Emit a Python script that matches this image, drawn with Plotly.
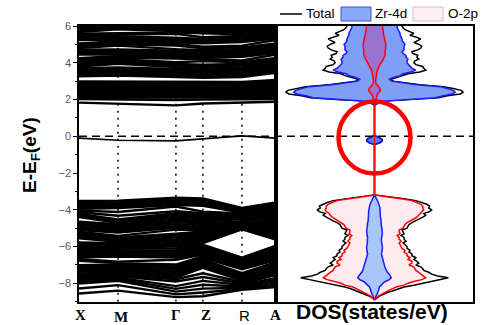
import plotly.graph_objects as go

W, H = 489, 325

# ---- band structure ---------------------------------------------------------
K_LABELS = ["X", "M", "Γ", "Z", "R", "A"]
K_POS = [0.0, 0.198, 0.492, 0.629, 0.827, 1.0]

# valence bands: energies (eV) at X, M, Γ, Z, R, A (band i = i-th entry of every list)
vb_X = [-3.52, -3.60, -3.68, -3.77, -3.86, -3.95, -4.04, -4.13, -4.22, -4.31, -4.40,
        -4.65, -4.74, -4.83, -4.92, -5.01, -5.10, -5.19, -5.28, -5.37, -5.46, -5.55,
        -5.78, -5.87, -5.96, -6.05, -6.14, -6.23, -6.32, -6.41, -6.50, -6.59, -6.68, -6.77,
        -7.02, -7.11, -7.20, -7.29, -7.38, -7.47, -7.56, -7.65, -7.74, -7.83, -7.92, -8.01,
        -8.28, -8.55]
vb_M = [-3.50, -3.58, -3.66, -3.74, -3.82, -3.90,
        -4.12, -4.32,
        -4.52, -4.61, -4.70, -4.79, -4.88, -4.97, -5.06, -5.15, -5.24,
        -5.42, -5.50, -5.58, -5.66, -5.74, -5.82, -5.90, -5.98, -6.06, -6.14, -6.22, -6.30,
        -6.38, -6.46, -6.54,
        -6.82, -6.90, -6.98, -7.06, -7.14, -7.22, -7.30, -7.38, -7.46, -7.54, -7.62, -7.70,
        -7.78, -7.86,
        -8.10, -8.40]
vb_G = [-3.34, -3.42, -3.50, -3.58, -3.66, -3.74, -3.82,
        -4.08, -4.18, -4.28, -4.38, -4.48, -4.58, -4.68, -4.78, -4.88, -4.98, -5.08,
        -5.30, -5.40, -5.50, -5.60, -5.70, -5.80, -5.90, -6.00, -6.10, -6.20, -6.30, -6.40,
        -6.50, -6.60, -6.72,
        -6.98, -7.08, -7.18, -7.28, -7.38, -7.48, -7.58, -7.68, -7.78, -7.90,
        -8.15, -8.30, -8.45, -8.60, -8.75]
vb_Z = [-3.38, -3.46, -3.54, -3.62, -3.70, -3.78,
        -4.10, -4.19, -4.28, -4.37, -4.46, -4.55, -4.64, -4.73, -4.82, -4.91, -5.00, -5.09,
        -5.18, -5.27, -5.36, -5.45, -5.54, -5.63, -5.72, -5.81,
        -5.90, -5.99, -6.08, -6.17, -6.26, -6.35, -6.44, -6.53, -6.62, -6.71, -6.80, -6.89,
        -6.98, -7.07, -7.16,
        -7.45, -7.66, -7.87, -8.08, -8.29, -8.50, -8.70]
vb_R = [-3.90, -3.95, -4.00, -4.05, -4.10, -4.15, -4.20, -4.25, -4.30, -4.35, -4.40,
        -4.45, -4.50,
        -4.62, -4.66, -4.70, -4.74, -4.78, -4.82, -4.86, -4.90, -4.94, -4.98,
        -5.01, -5.04, -5.07,
        -6.60, -6.68, -6.76, -6.84, -6.92, -7.00, -7.08, -7.16, -7.24,
        -7.45, -7.53, -7.61, -7.69, -7.77, -7.85, -7.93, -8.01, -8.09, -8.17,
        -8.24, -8.30, -8.35]
vb_A = [-3.60, -3.68, -3.76, -3.84, -3.92, -4.00, -4.08, -4.16, -4.24, -4.32, -4.40,
        -4.48, -4.56, -4.64, -4.72, -4.80, -4.88, -4.96, -5.04, -5.12, -5.20, -5.28,
        -5.36, -5.44, -5.52, -5.62,
        -5.95, -6.05, -6.15, -6.25, -6.35, -6.45, -6.55, -6.65, -6.75, -6.85, -6.95,
        -7.05, -7.15, -7.25, -7.35, -7.45, -7.55, -7.70, -7.82, -7.95, -8.08, -8.20]

# conduction bands: energies (eV) at X, M, Γ, Z, R, A
cb_X = [1.83, 2.02, 2.10, 2.18, 2.26, 2.34, 2.42, 2.50, 2.58, 2.66, 2.74, 2.82, 2.90, 2.98,
        3.26, 3.35, 3.44, 3.53, 3.62, 3.71, 3.80, 3.89, 3.98, 4.07, 4.16, 4.25,
        4.44, 4.53, 4.62, 4.71, 4.80, 4.88, 4.96, 5.05,
        5.24, 5.32, 5.40, 5.49, 5.58, 5.67, 5.76, 5.85, 5.94, 6.03, 6.12]
cb_M = [1.78, 2.00, 2.10, 2.18, 2.26, 2.34, 2.42, 2.50, 2.58, 2.66, 2.74, 2.82, 2.90, 2.97,
        3.30, 3.39, 3.48, 3.57, 3.66, 3.75,
        3.95, 4.03, 4.11, 4.19, 4.28, 4.37, 4.46, 4.55, 4.64, 4.73,
        4.93, 5.01, 5.09, 5.17, 5.26, 5.35, 5.44, 5.53, 5.62,
        5.82, 5.90, 5.98, 6.07, 6.16, 6.25]
cb_G = [1.68, 1.97, 2.08, 2.16, 2.24, 2.32, 2.40, 2.48, 2.56, 2.64, 2.72, 2.80, 2.88, 2.95,
        3.22, 3.31, 3.40, 3.49, 3.58, 3.67, 3.76, 3.85, 3.94, 4.03,
        4.23, 4.31, 4.39, 4.47, 4.56, 4.65, 4.74,
        4.94, 5.02, 5.10, 5.19, 5.28, 5.37,
        5.57, 5.65, 5.73, 5.82, 5.91, 6.00, 6.09, 6.18]
cb_Z = [1.78, 2.00, 2.10, 2.18, 2.26, 2.34, 2.42, 2.50, 2.58, 2.66, 2.74, 2.82, 2.88, 2.93,
        3.18, 3.27, 3.36, 3.45, 3.54, 3.63, 3.72, 3.81, 3.90,
        4.09, 4.17, 4.25, 4.33, 4.42, 4.51, 4.60, 4.69, 4.78, 4.87,
        5.06, 5.14, 5.22, 5.30, 5.39,
        5.60, 5.69, 5.78, 5.87, 5.96, 6.05, 6.14]
cb_R = [1.83, 2.03, 2.12, 2.20, 2.28, 2.36, 2.44, 2.52, 2.60, 2.68, 2.76, 2.84, 2.90, 2.96,
        3.22, 3.31, 3.40, 3.49, 3.58, 3.67, 3.76, 3.85, 3.94, 4.03, 4.12,
        4.32, 4.40, 4.48, 4.57, 4.66, 4.75, 4.84, 4.93,
        5.12, 5.20, 5.28, 5.37, 5.46, 5.55, 5.64, 5.73, 5.82, 5.91, 6.00, 6.09]
cb_A = [1.88, 2.03, 2.12, 2.20, 2.28, 2.36, 2.44, 2.52, 2.60, 2.68, 2.76, 2.86, 2.96, 3.06,
        3.45, 3.54, 3.63, 3.72, 3.81, 3.90, 3.99, 4.08, 4.17, 4.26,
        4.45, 4.53, 4.61, 4.69, 4.78, 4.87, 4.96, 5.05,
        5.24, 5.32, 5.40, 5.49, 5.58, 5.67, 5.76, 5.85, 5.94, 6.03, 6.12, 6.21, 6.30]

# in-gap defect band at X, M, Γ, Z, R, A
gap_band = [-0.10, -0.22, -0.25, -0.14, 0.02, -0.10]

# ---- density of states (states/eV) -----------------------------------------
E_vb = [-8.9, -8.8, -8.7, -8.6, -8.5, -8.4, -8.3, -8.2, -8.1, -8.0,
        -7.9, -7.8, -7.7, -7.6, -7.5, -7.4, -7.3, -7.2, -7.1, -7.0,
        -6.9, -6.8, -6.7, -6.6, -6.5, -6.4, -6.3, -6.2, -6.1, -6.0,
        -5.9, -5.8, -5.7, -5.6, -5.5, -5.4, -5.3, -5.2, -5.1, -5.0,
        -4.9, -4.8, -4.7, -4.6, -4.5, -4.4, -4.3, -4.2, -4.1, -4.0,
        -3.9, -3.8, -3.7, -3.6, -3.5, -3.4, -3.3, -3.2]
tot_vb = [0.0, 0.2, 0.5, 0.9, 1.3, 1.9, 2.4, 3.0, 4.0, 4.8,
          5.6, 6.6, 7.5, 6.4, 5.8, 5.5, 5.0, 4.9, 4.7, 4.2,
          4.5, 4.3, 4.0, 4.2, 3.8, 3.8, 3.5, 3.6, 3.3, 3.3,
          3.1, 2.9, 3.2, 3.0, 3.0, 2.7, 3.0, 2.9, 2.8, 3.3,
          3.4, 3.5, 3.8, 4.2, 4.6, 4.9, 5.2, 5.0, 5.6, 5.8,
          5.5, 5.6, 5.3, 4.8, 4.2, 3.0, 1.5, 0.0]
zr_vb = [0.0, 0.05, 0.15, 0.25, 0.35, 0.4, 0.45, 0.5, 0.7, 0.85,
         1.1, 1.5, 1.7, 1.6, 1.5, 1.3, 1.2, 1.1, 1.05, 1.0,
         0.95, 0.9, 0.85, 0.8, 0.75, 0.7, 0.75, 0.8, 0.8, 0.8,
         0.75, 0.7, 0.7, 0.7, 0.7, 0.75, 0.8, 0.8, 0.8, 0.75,
         0.7, 0.7, 0.7, 0.65, 0.65, 0.6, 0.6, 0.6, 0.6, 0.6,
         0.55, 0.5, 0.45, 0.4, 0.3, 0.2, 0.1, 0.0]
o_vb = [0.0, 0.15, 0.4, 0.7, 1.0, 1.4, 1.8, 2.2, 3.0, 3.4,
        4.0, 4.8, 5.2, 5.0, 4.7, 4.5, 4.2, 4.1, 4.0, 3.5,
        3.8, 3.8, 3.4, 3.6, 3.3, 3.3, 3.0, 3.1, 2.8, 2.7,
        2.6, 2.5, 2.7, 2.5, 2.5, 2.3, 2.6, 2.5, 2.5, 2.9,
        3.0, 3.1, 3.3, 3.7, 4.0, 4.3, 4.5, 4.6, 4.9, 5.0,
        4.9, 4.9, 4.7, 4.3, 3.8, 2.7, 1.3, 0.0]

E_def = [-0.45, -0.35, -0.25, -0.15, -0.05, 0.05]
tot_def = [0.0, 0.55, 0.8, 0.75, 0.4, 0.0]
zr_def = [0.0, 0.5, 0.75, 0.7, 0.35, 0.0]

E_cb = [1.7, 1.8, 1.9, 2.0, 2.1, 2.2, 2.3, 2.4, 2.5, 2.6,
        2.7, 2.8, 2.9, 3.0, 3.1, 3.2, 3.3, 3.4, 3.5, 3.6,
        3.7, 3.8, 3.9, 4.0, 4.1, 4.2, 4.3, 4.4, 4.5, 4.6,
        4.7, 4.8, 4.9, 5.0, 5.1, 5.2, 5.3, 5.4, 5.5, 5.6,
        5.7, 5.8, 5.9, 6.0, 6.1]
tot_cb = [0.0, 0.4, 0.6, 3.8, 6.5, 7.4, 8.7, 9.0, 8.8, 8.0,
          7.0, 4.6, 3.1, 1.9, 1.7, 2.3, 3.0, 3.4, 4.6, 5.2,
          5.0, 4.9, 4.2, 4.0, 4.1, 4.5, 4.3, 4.4, 3.9, 3.8,
          4.4, 4.7, 4.8, 4.5, 4.0, 4.4, 4.7, 4.2, 3.6, 4.0,
          3.5, 3.1, 2.9, 2.8, 2.8]
zr_cb = [0.0, 0.35, 0.5, 3.6, 6.2, 7.0, 7.9, 8.2, 8.0, 7.4,
         6.7, 4.3, 2.8, 1.7, 1.5, 1.9, 2.6, 2.9, 3.7, 4.2,
         3.8, 3.6, 3.4, 3.3, 3.3, 3.4, 3.2, 3.2, 2.9, 2.8,
         3.0, 3.0, 3.0, 3.1, 2.9, 2.8, 2.8, 2.7, 2.6, 2.6,
         2.5, 2.4, 2.3, 2.3, 2.3]
o_cb = [0.0, 0.05, 0.08, 0.1, 0.15, 0.2, 0.3, 0.45, 0.6, 0.55,
        0.4, 0.2, 0.12, 0.1, 0.12, 0.15, 0.15, 0.2, 0.25, 0.3,
        0.35, 0.45, 0.55, 0.7, 0.8, 0.9, 1.0, 1.05, 1.1, 1.05,
        1.1, 1.15, 1.15, 1.15, 1.1, 1.1, 1.05, 1.0, 0.95, 0.9,
        0.9, 0.85, 0.8, 0.8, 0.8]

DOS_MAX = 10.0
Y_RANGE = [-9, 6]


def band_lines(columns):
    xs, ys = [], []
    for band in zip(*columns):
        xs += K_POS + [None]
        ys += list(band) + [None]
    return xs, ys


def mirrored(energies, values):
    """Closed outline of a DOS curve drawn symmetrically about zero."""
    xs = list(values) + [-v for v in values[::-1]]
    ys = list(energies) + list(energies[::-1])
    return xs, ys


fig = go.Figure()

band_style = dict(mode="lines", line=dict(color="black", width=2.4),
                  hoverinfo="skip", showlegend=False, xaxis="x", yaxis="y")
for cols in ([vb_X, vb_M, vb_G, vb_Z, vb_R, vb_A], [cb_X, cb_M, cb_G, cb_Z, cb_R, cb_A]):
    bx, by = band_lines(cols)
    fig.add_trace(go.Scatter(x=bx, y=by, **band_style))
fig.add_trace(go.Scatter(x=K_POS, y=gap_band, mode="lines", line=dict(color="black", width=1.6),
                         hoverinfo="skip", showlegend=False, xaxis="x", yaxis="y"))

# DOS panel
dos = dict(xaxis="x2", yaxis="y2", hoverinfo="skip", showlegend=False)

tx, ty = mirrored(E_vb + E_def + E_cb, tot_vb + tot_def + tot_cb)
fig.add_trace(go.Scatter(x=tx, y=ty, mode="lines", line=dict(color="black", width=1.5), **dos))

zx, zy = mirrored(E_cb, zr_cb)
fig.add_trace(go.Scatter(x=zx, y=zy, fill="toself", fillcolor="#7f9ef6",
                         mode="none", **dos))
ox, oy = mirrored(E_cb, o_cb)
fig.add_trace(go.Scatter(x=ox, y=oy, fill="toself", fillcolor="#9a72d2",
                         mode="none", **dos))
ox, oy = mirrored(E_vb, o_vb)
fig.add_trace(go.Scatter(x=ox, y=oy, fill="toself", fillcolor="#fdebef",
                         mode="none", **dos))
zx, zy = mirrored(E_vb, zr_vb)
fig.add_trace(go.Scatter(x=zx, y=zy, fill="toself", fillcolor="#a9c6f8",
                         mode="none", **dos))
zx, zy = mirrored(E_def, zr_def)
fig.add_trace(go.Scatter(x=zx, y=zy, fill="toself", fillcolor="#5a7cf2",
                         mode="none", **dos))

zx, zy = mirrored(E_vb + E_def + E_cb, zr_vb + zr_def + zr_cb)
fig.add_trace(go.Scatter(x=zx, y=zy, mode="lines", line=dict(color="#1a1aff", width=1.5), **dos))
ox, oy = mirrored(E_vb + E_cb, o_vb + o_cb)
fig.add_trace(go.Scatter(x=ox, y=oy, mode="lines", line=dict(color="#ff0000", width=1.5), **dos))

# ---- layout -----------------------------------------------------------------
x0, xm, x1 = 79 / W, 276 / W, 473 / W
ybot, ytop = 1 - 301.7 / H, 1 - 26 / H

shapes = []
for k in K_POS[1:5]:
    shapes.append(dict(type="line", xref="x", yref="y", x0=k, x1=k, y0=Y_RANGE[0], y1=Y_RANGE[1],
                       line=dict(color="black", width=1.5, dash="2px,5px"), layer="below"))
shapes.append(dict(type="line", xref="paper", yref="y", x0=x0, x1=x1, y0=0, y1=0,
                   line=dict(color="black", width=1.5, dash="8px,5px")))
shapes.append(dict(type="circle", xref="x2", yref="y2", xsizemode="pixel", ysizemode="pixel",
                   xanchor=0, yanchor=-0.07, x0=-36, x1=36, y0=-36, y1=36,
                   line=dict(color="#ff0000", width=4.5)))

# legend
shapes.append(dict(type="line", xref="paper", yref="paper", x0=280 / W, x1=302 / W,
                   y0=1 - 14 / H, y1=1 - 14 / H, line=dict(color="black", width=1.5)))
shapes.append(dict(type="rect", xref="paper", yref="paper", x0=341 / W, x1=371 / W,
                   y0=1 - 21 / H, y1=1 - 7 / H, fillcolor="#8aaaf8",
                   line=dict(color="#3a55c8", width=1)))
shapes.append(dict(type="rect", xref="paper", yref="paper", x0=413 / W, x1=443 / W,
                   y0=1 - 21 / H, y1=1 - 7 / H, fillcolor="#fdeef0",
                   line=dict(color="#e9b8be", width=1)))

annotations = []
for txt, px in (("Total", 304), ("Zr-4d", 373), ("O-2p", 446)):
    annotations.append(dict(text=txt, xref="paper", yref="paper", x=px / W, y=1 - 13.5 / H,
                            xanchor="left", yanchor="middle", showarrow=False,
                            font=dict(family="Liberation Sans", size=13.5, color="black")))

label_px = [80, 121, 176, 206, 244, 275]
for lab, px in zip(K_LABELS, label_px):
    fam = "Liberation Sans" if lab == "R" else "Liberation Serif"
    annotations.append(dict(text=f"<b>{lab}</b>" if lab != "R" else lab,
                            xref="paper", yref="paper", x=px / W,
                            y=1 - (317 if lab == "M" else 315) / H,
                            xanchor="center", yanchor="middle", showarrow=False,
                            font=dict(family=fam, size=15, color="black")))

annotations.append(dict(text="<b>E-E<sub>F</sub>(eV)</b>", xref="paper", yref="paper",
                        x=31 / W, y=1 - 155 / H, textangle=-90, showarrow=False,
                        xanchor="center", yanchor="middle",
                        font=dict(family="Liberation Sans", size=19, color="black")))
annotations.append(dict(text="<b>DOS(states/eV)</b>", xref="paper", yref="paper",
                        x=372 / W, y=1 - 311 / H, showarrow=False,
                        xanchor="center", yanchor="middle",
                        font=dict(family="Liberation Sans", size=21, color="black")))

axis_common = dict(showline=True, linecolor="black", linewidth=1.5, mirror=True,
                   showgrid=False, zeroline=False, automargin=False)

fig.update_layout(
    width=W, height=H, margin=dict(l=0, r=0, t=0, b=0, pad=0, autoexpand=False),
    paper_bgcolor="white", plot_bgcolor="white", showlegend=False,
    xaxis=dict(domain=[x0, xm], range=[0, 1], showticklabels=False, ticks="",
               anchor="y", **axis_common),
    yaxis=dict(domain=[ybot, ytop], range=Y_RANGE, anchor="x", dtick=2, tick0=0,
               ticks="outside", ticklen=4, tickwidth=1, tickcolor="black",
               minor=dict(ticks="outside", ticklen=2, dtick=1, tickcolor="black"),
               tickfont=dict(family="Liberation Sans", size=11, color="#555566"),
               **axis_common),
    xaxis2=dict(domain=[xm, x1], range=[-DOS_MAX, DOS_MAX], showticklabels=False,
                ticks="", anchor="y2", **axis_common),
    yaxis2=dict(domain=[ybot, ytop], range=Y_RANGE, anchor="x2", matches="y",
                showticklabels=False, ticks="", **axis_common),
    shapes=shapes, annotations=annotations,
)

fig.write_html("out.html")
